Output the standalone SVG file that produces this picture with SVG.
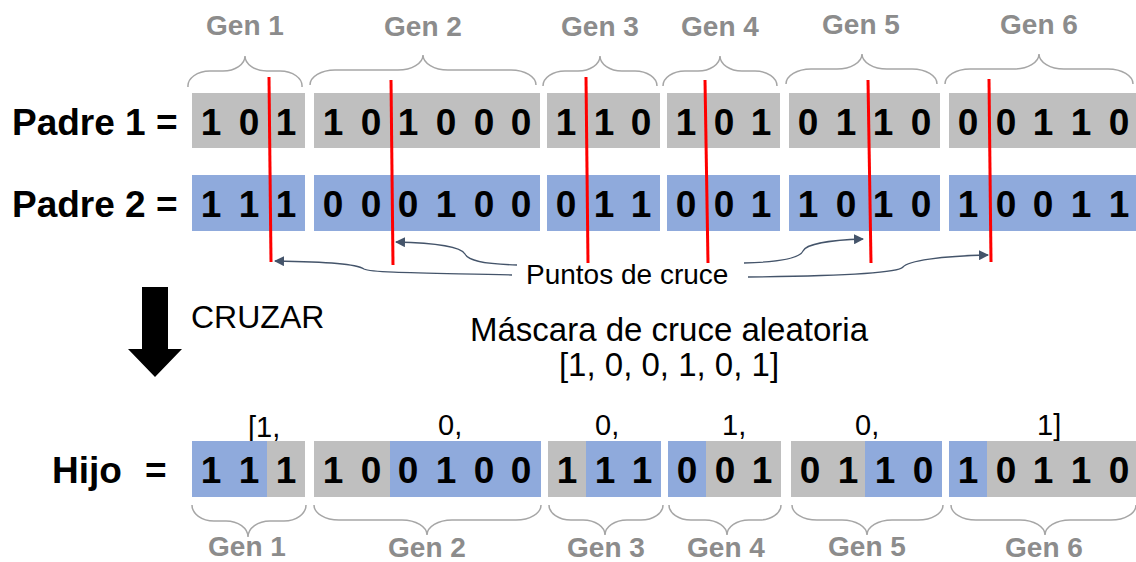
<svg xmlns="http://www.w3.org/2000/svg" width="1136" height="562" viewBox="0 0 1136 562">
  <style>
    .bg { fill: #ffffff; }
    .g { fill: #bfbfbf; }
    .b { fill: #8faadc; }
    .bit { font-family: "Liberation Sans", Arial, sans-serif; font-weight: bold; font-size: 37px; fill: #000; text-anchor: middle; }
    .row { font-family: "Liberation Sans", Arial, sans-serif; font-weight: bold; font-size: 37px; fill: #000; }
    .gen { font-family: "Liberation Sans", Arial, sans-serif; font-weight: bold; font-size: 28px; fill: #8c8c8c; text-anchor: middle; }
    .brace { fill: none; stroke: #a6a6a6; stroke-width: 1.5; }
    .cut { stroke: #ff0000; stroke-width: 3; }
    .lbl { font-family: "Liberation Sans", Arial, sans-serif; fill: #000; }
    .conn { fill: none; stroke: #44546a; stroke-width: 1.3; marker-end: url(#head); }
  </style>
  <defs>
    <marker id="head" viewBox="0 0 10 10" refX="9" refY="5" markerWidth="10" markerHeight="10" markerUnits="userSpaceOnUse" orient="auto">
      <path d="M0,0 L10,5 L0,10 Z" fill="#44546a"/>
    </marker>
  </defs>
  <rect class="bg" x="0" y="0" width="1136" height="562"/>

  <!-- gene labels and braces above the parents -->
  <g id="genes-top">
    <text class="gen" x="245" y="35">Gen 1</text>
    <text class="gen" x="423" y="36">Gen 2</text>
    <text class="gen" x="600" y="36">Gen 3</text>
    <text class="gen" x="720" y="36">Gen 4</text>
    <text class="gen" x="861" y="34">Gen 5</text>
    <text class="gen" x="1039" y="34">Gen 6</text>
    <path class="brace" d="M188,87 A22,15 0 0 1 210,71 L223,71 A22,15 0 0 0 245,56 A22,15 0 0 0 267,71 L280,71 A22,15 0 0 1 302,87"/>
    <path class="brace" d="M310,85 A25,15 0 0 1 335,70 L398,70 A25,15 0 0 0 423,55 A25,15 0 0 0 448,70 L511,70 A25,15 0 0 1 536,85"/>
    <path class="brace" d="M543,86 A22,15 0 0 1 565,71 L578,71 A22,15 0 0 0 600,56 A22,15 0 0 0 622,71 L635,71 A22,15 0 0 1 657,86"/>
    <path class="brace" d="M663,86 A22,15 0 0 1 685,71 L698,71 A22,15 0 0 0 720,56 A22,15 0 0 0 742,71 L755,71 A22,15 0 0 1 777,86"/>
    <path class="brace" d="M786,84 A25,15 0 0 1 811,69 L837,69 A25,15 0 0 0 862,54 A25,15 0 0 0 887,69 L912,69 A25,15 0 0 1 937,84"/>
    <path class="brace" d="M945,84 A25,15 0 0 1 970,69 L1014,69 A25,15 0 0 0 1039,54 A25,15 0 0 0 1064,69 L1108,69 A25,15 0 0 1 1133,84"/>
  </g>

  <!-- parent 1 -->
  <g id="padre1">
    <text class="row" x="12" y="135">Padre 1 =</text>
    <rect class="g" x="192" y="93" width="113" height="55"/>
    <rect class="g" x="314" y="93" width="226" height="55"/>
    <rect class="g" x="547" y="93" width="113" height="55"/>
    <rect class="g" x="667" y="93" width="113" height="55"/>
    <rect class="g" x="789" y="93" width="151" height="55"/>
    <rect class="g" x="949" y="93" width="190" height="55"/>
    <text class="bit" y="135"><tspan x="211">1</tspan><tspan x="249">0</tspan><tspan x="286">1</tspan><tspan x="333">1</tspan><tspan x="371">0</tspan><tspan x="408">1</tspan><tspan x="446">0</tspan><tspan x="484">0</tspan><tspan x="521">0</tspan><tspan x="566">1</tspan><tspan x="604">1</tspan><tspan x="641">0</tspan><tspan x="686">1</tspan><tspan x="724">0</tspan><tspan x="761">1</tspan><tspan x="808">0</tspan><tspan x="846">1</tspan><tspan x="883">1</tspan><tspan x="921">0</tspan><tspan x="968">0</tspan><tspan x="1006">0</tspan><tspan x="1043">1</tspan><tspan x="1081">1</tspan><tspan x="1119">0</tspan></text>
  </g>

  <!-- parent 2 -->
  <g id="padre2">
    <text class="row" x="12" y="217">Padre 2 =</text>
    <rect class="b" x="192" y="175" width="113" height="56"/>
    <rect class="b" x="314" y="175" width="226" height="56"/>
    <rect class="b" x="547" y="175" width="113" height="56"/>
    <rect class="b" x="667" y="175" width="113" height="56"/>
    <rect class="b" x="789" y="175" width="151" height="56"/>
    <rect class="b" x="949" y="175" width="190" height="56"/>
    <text class="bit" y="217"><tspan x="211">1</tspan><tspan x="249">1</tspan><tspan x="286">1</tspan><tspan x="333">0</tspan><tspan x="371">0</tspan><tspan x="408">0</tspan><tspan x="446">1</tspan><tspan x="484">0</tspan><tspan x="521">0</tspan><tspan x="566">0</tspan><tspan x="604">1</tspan><tspan x="641">1</tspan><tspan x="686">0</tspan><tspan x="724">0</tspan><tspan x="761">1</tspan><tspan x="808">1</tspan><tspan x="846">0</tspan><tspan x="883">1</tspan><tspan x="921">0</tspan><tspan x="968">1</tspan><tspan x="1006">0</tspan><tspan x="1043">0</tspan><tspan x="1081">1</tspan><tspan x="1119">1</tspan></text>
  </g>

  <!-- crossover points -->
  <g id="cortes">
    <line class="cut" x1="269" y1="77" x2="271" y2="262"/>
    <line class="cut" x1="391" y1="80" x2="393" y2="265"/>
    <line class="cut" x1="586" y1="77" x2="588" y2="263"/>
    <line class="cut" x1="705" y1="80" x2="708" y2="263"/>
    <line class="cut" x1="868" y1="80" x2="871" y2="263"/>
    <line class="cut" x1="989" y1="79" x2="991" y2="262"/>
  </g>

  <g id="puntos">
    <text class="lbl" x="526" y="284" font-size="28">Puntos de cruce</text>
  </g>

  <!-- connectors from the label to each crossover point -->
  <g id="connectors">
    <path class="conn" d="M512,275 C430,273 372,273 364,269 C356,264 330,262 275,261"/>
    <path class="conn" d="M517,265 C480,264 468,260 465,254 C461,247 440,243 396,242"/>
    <path class="conn" d="M744,263 C782,262 800,258 803,251 C806,244 830,240 863,239"/>
    <path class="conn" d="M748,277 C850,276 898,273 903,267 C908,261 940,256 988,255"/>
  </g>

  <!-- crossing step -->
  <g id="cruzar">
    <polygon points="142,287 168,287 168,349 182,349 155,377 128,349 142,349" fill="#000"/>
    <text class="lbl" x="191" y="328" font-size="32">CRUZAR</text>
  </g>

  <g id="mascara">
    <text class="lbl" x="669" y="341" font-size="33" text-anchor="middle">Máscara de cruce aleatoria</text>
    <text class="lbl" x="669" y="376" font-size="33" text-anchor="middle">[1, 0, 0, 1, 0, 1]</text>
  </g>

  <!-- mask value per gene -->
  <g id="mascara-genes">
    <text class="lbl" x="248" y="437" font-size="29">[1,</text>
    <text class="lbl" x="438" y="435" font-size="29">0,</text>
    <text class="lbl" x="595" y="435" font-size="29">0,</text>
    <text class="lbl" x="722" y="435" font-size="29">1,</text>
    <text class="lbl" x="855" y="435" font-size="29">0,</text>
    <text class="lbl" x="1037" y="435" font-size="29">1]</text>
  </g>

  <!-- offspring -->
  <g id="hijo">
    <text class="row" y="483"><tspan x="52">Hijo</tspan><tspan x="145">=</tspan></text>
    <rect class="g" x="192" y="441" width="113" height="56"/>
    <rect class="b" x="192" y="441" width="75" height="56"/>
    <rect class="g" x="314" y="441" width="227" height="56"/>
    <rect class="b" x="390" y="441" width="151" height="56"/>
    <rect class="g" x="548" y="441" width="113" height="56"/>
    <rect class="b" x="586" y="441" width="75" height="56"/>
    <rect class="g" x="668" y="441" width="113" height="56"/>
    <rect class="b" x="668" y="441" width="38" height="56"/>
    <rect class="g" x="791" y="441" width="151" height="56"/>
    <rect class="b" x="865" y="441" width="77" height="56"/>
    <rect class="g" x="949" y="441" width="190" height="56"/>
    <rect class="b" x="949" y="441" width="38" height="56"/>
    <text class="bit" y="483"><tspan x="211">1</tspan><tspan x="249">1</tspan><tspan x="286">1</tspan><tspan x="333">1</tspan><tspan x="371">0</tspan><tspan x="408">0</tspan><tspan x="446">1</tspan><tspan x="484">0</tspan><tspan x="521">0</tspan><tspan x="567">1</tspan><tspan x="605">1</tspan><tspan x="642">1</tspan><tspan x="687">0</tspan><tspan x="725">0</tspan><tspan x="762">1</tspan><tspan x="810">0</tspan><tspan x="848">1</tspan><tspan x="885">1</tspan><tspan x="923">0</tspan><tspan x="968">1</tspan><tspan x="1006">0</tspan><tspan x="1043">1</tspan><tspan x="1081">1</tspan><tspan x="1119">0</tspan></text>
  </g>

  <!-- gene braces and labels below the offspring -->
  <g id="genes-bottom">
    <path class="brace" d="M192,505 A22,16 0 0 0 214,521 L226,521 A22,16 0 0 1 248,537 A22,16 0 0 1 270,521 L284,521 A22,16 0 0 0 306,505"/>
    <path class="brace" d="M314,505 A25,15 0 0 0 339,520 L402,520 A25,15 0 0 1 427,535 A25,15 0 0 1 452,520 L516,520 A25,15 0 0 0 541,505"/>
    <path class="brace" d="M549,505 A22,15 0 0 0 571,520 L583,520 A22,15 0 0 1 605,535 A22,15 0 0 1 627,520 L641,520 A22,15 0 0 0 663,505"/>
    <path class="brace" d="M669,505 A22,15 0 0 0 691,520 L705,520 A22,15 0 0 1 727,535 A22,15 0 0 1 749,520 L759,520 A22,15 0 0 0 781,505"/>
    <path class="brace" d="M792,505 A25,15 0 0 0 817,520 L842,520 A25,15 0 0 1 867,535 A25,15 0 0 1 892,520 L918,520 A25,15 0 0 0 943,505"/>
    <path class="brace" d="M951,505 A25,15 0 0 0 976,520 L1020,520 A25,15 0 0 1 1045,535 A25,15 0 0 1 1070,520 L1111,520 A25,15 0 0 0 1136,505"/>
    <text class="gen" x="247" y="556">Gen 1</text>
    <text class="gen" x="427" y="557">Gen 2</text>
    <text class="gen" x="606" y="557">Gen 3</text>
    <text class="gen" x="726" y="557">Gen 4</text>
    <text class="gen" x="867" y="556">Gen 5</text>
    <text class="gen" x="1044" y="557">Gen 6</text>
  </g>
</svg>
